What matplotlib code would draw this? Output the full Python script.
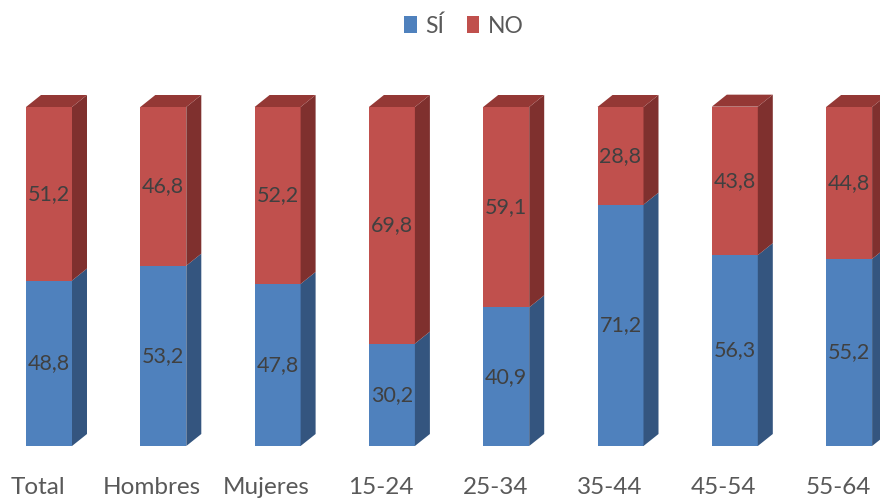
import matplotlib
matplotlib.use("Agg")
import matplotlib.pyplot as plt
from matplotlib.patches import Polygon, Patch

categories = ["Total", "Hombres", "Mujeres", "15-24", "25-34", "35-44", "45-54", "55-64"]
si_values = [48.8, 53.2, 47.8, 30.2, 40.9, 71.2, 56.3, 55.2]
no_values = [51.2, 46.8, 52.2, 69.8, 59.1, 28.8, 43.8, 44.8]
series_names = ["SÍ", "NO"]

FONT = ["Lato", "DejaVu Sans"]
plt.rcParams['font.family'] = FONT

W, H = 880, 499
fig = plt.figure(figsize=(W / 100, H / 100), dpi=100)
ax = fig.add_axes([0, 0, 1, 1])

step = 114.3
x0 = 49
y0 = 446
ppu = 3.39
ax.set_xlim(-x0 / step, (W - x0) / step)
ax.set_ylim((y0 - H) / ppu, y0 / ppu)
ax.axis("off")

bw = 46 / step
dx = 15 / step
dy = 12 / ppu
lab_shift = -11 / step

colors = {
    "SÍ": ("#4F81BD", "#34557F", "#3E6799"),
    "NO": ("#C0504D", "#7F302E", "#943835"),
}

def box(x, b, t, cols, top=False):
    front, side, topc = cols
    l, r = x - bw / 2, x + bw / 2
    ax.add_patch(Polygon([(l, b), (r, b), (r, t), (l, t)], closed=True,
                         facecolor=front, edgecolor="none"))
    ax.add_patch(Polygon([(r, b), (r + dx, b + dy), (r + dx, t + dy), (r, t)], closed=True,
                         facecolor=side, edgecolor="none"))
    if top:
        ax.add_patch(Polygon([(l, t), (r, t), (r + dx, t + dy), (l + dx, t + dy)], closed=True,
                             facecolor=topc, edgecolor="none"))

for i, (s, n) in enumerate(zip(si_values, no_values)):
    box(i, 0, s, colors["SÍ"])
    box(i, s, s + n, colors["NO"], top=True)
    ax.text(i, s / 2, f"{s:.1f}".replace(".", ","), ha="center", va="center",
            fontsize=15.5, color="#404040")
    ax.text(i, s + n / 2, f"{n:.1f}".replace(".", ","), ha="center", va="center",
            fontsize=15.5, color="#404040")
    ax.text(i + lab_shift, (y0 - 488) / ppu, categories[i], ha="center", va="center",
            fontsize=17.5, color="#595959")

handles = [Patch(facecolor=colors[k][0], edgecolor="none") for k in series_names]
fig.legend(handles, series_names, loc="center", bbox_to_anchor=(0.527, 1 - 26 / H), ncol=2,
           frameon=False, handlelength=0.55, handleheight=0.75, handletextpad=0.35,
           columnspacing=1.0, fontsize=16.5, labelcolor="#595959")

fig.savefig("out.png", dpi=100)
